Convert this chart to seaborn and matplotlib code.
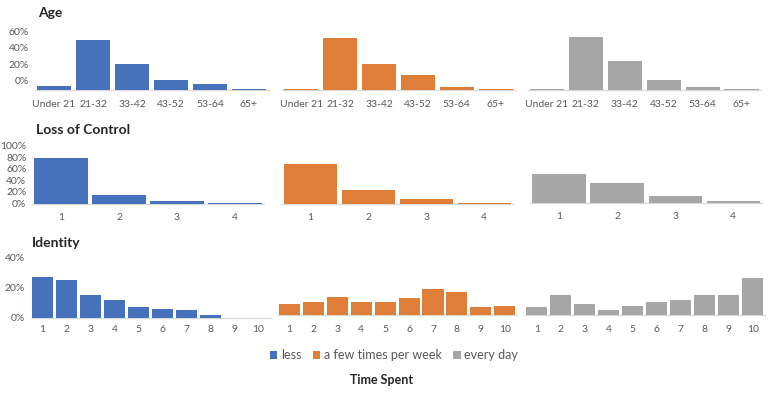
import matplotlib
matplotlib.use("Agg")
import matplotlib.pyplot as plt
from matplotlib.patches import Patch
import seaborn as sns
import pandas as pd

# ---- data (percent) ----
series_names = ["less", "a few times per week", "every day"]
series_colors = ["#4672BC", "#DE7E38", "#A6A6A6"]

age_cats = ["Under 21", "21-32", "33-42", "43-52", "53-64", "65+"]
age_less = [4, 51, 27, 10, 6.5, 1.5]
age_few = [1, 53, 27, 15, 3, 1]
age_daily = [1.5, 54, 30, 10.5, 3.5, 1.3]

loc_cats = ["1", "2", "3", "4"]
loc_less = [79, 14.5, 4, 0.5]
loc_few = [68, 24, 7, 1.5]
loc_daily = [49, 34, 11, 2.5]

id_cats = ["1", "2", "3", "4", "5", "6", "7", "8", "9", "10"]
id_less = [27, 25, 15, 12, 6.7, 5.8, 4.9, 2, 0, 0]
id_few = [7, 8.5, 11.6, 8.5, 8.5, 10.7, 17, 15.3, 4.7, 6]
id_daily = [4.7, 12.9, 6.9, 3.1, 6, 8.4, 10, 12.9, 12.9, 24.4]

age_tick_labels = ["0%", "20%", "40%", "60%"]
loc_tick_labels = ["0%", "20%", "40%", "60%", "80%", "100%"]
id_tick_labels = ["0%", "20%", "40%"]

# ---- style ----
sns.set_theme(style="white")
plt.rcParams["font.family"] = ["Lato", "DejaVu Sans"]

W, H = 768, 403
fig = plt.figure(figsize=(W / 100, H / 100), dpi=100)
fig.patch.set_facecolor("white")

TICK_COL = "#595959"
AXIS_COL = "#D9D9D9"


def add_ax(left, right, top, bottom):
    return fig.add_axes([left / W, 1 - bottom / H, (right - left) / W, (bottom - top) / H])


def panel(ax, cats, vals, color, ymax, xpad, first, yticks=None, ylabels=None, width=0.9):
    df = pd.DataFrame({"cat": cats, "val": vals})
    sns.barplot(data=df, x="cat", y="val", color=color, ax=ax, width=width,
                linewidth=0, saturation=1)
    ax.set_ylim(0, ymax)
    ax.set_xlim(-0.5, len(cats) - 0.5)
    ax.set_xlabel("")
    ax.set_ylabel("")
    for s in ["top", "right", "left"]:
        ax.spines[s].set_visible(False)
    ax.spines["bottom"].set_color(AXIS_COL)
    ax.spines["bottom"].set_linewidth(0.9)
    ax.spines["bottom"].set_zorder(0.5)
    ax.tick_params(axis="x", length=0, pad=xpad, labelsize=7.5, labelcolor=TICK_COL)
    if first:
        ax.set_yticks(yticks)
        ax.set_yticklabels(ylabels)
        ax.tick_params(axis="y", length=0, pad=4, labelsize=7.5, labelcolor=TICK_COL)
    else:
        ax.set_yticks([])
    ax.set_facecolor("none")


# ---- Age row ----
age_px = 0.98  # px per percent
age_pos = [(34.5, 268.5, 90), (281.9, 515.1, 90), (527.5, 761, 90.3)]
age_vals = [age_less, age_few, age_daily]
age_ymax = 62
age_tick_pos = [10.2, 26.5, 42.9, 59.2]
for i, ((l, r, b), vals) in enumerate(zip(age_pos, age_vals)):
    ax = add_ax(l, r, b - age_ymax * age_px, b)
    panel(ax, age_cats, vals, series_colors[i], age_ymax, 7, i == 0,
          age_tick_pos, age_tick_labels, width=0.88)

# ---- Loss of Control row ----
loc_pos = [(32, 264, 203.5), (281.2, 513.2, 203.5), (530, 762.4, 202.5)]
loc_vals = [loc_less, loc_few, loc_daily]
for i, ((l, r, b), vals) in enumerate(zip(loc_pos, loc_vals)):
    ax = add_ax(l, r, b - 57.6, b)
    panel(ax, loc_cats, vals, series_colors[i], 100, 6.5, i == 0,
          [0, 20, 40, 60, 80, 100], loc_tick_labels, width=0.92)

# ---- Identity row ----
id_pos = [(30.5, 270.5, 317.5), (277.5, 516.7, 314.5), (524.7, 764.8, 314.5)]
id_vals = [id_less, id_few, id_daily]
id_pads = [5.5, 7.5, 7.5]
for i, ((l, r, b), vals) in enumerate(zip(id_pos, id_vals)):
    ax = add_ax(l, r, b - 60, b)
    panel(ax, id_cats, vals, series_colors[i], 40, id_pads[i], i == 0,
          [0, 20, 40], id_tick_labels, width=0.88)

# ---- titles ----
fig.text(38 / W, 1 - 13 / H, "Age", fontsize=10, fontweight="bold", va="center", ha="left")
fig.text(36 / W, 1 - 130 / H, "Loss of Control", fontsize=10, fontweight="bold", va="center", ha="left")
fig.text(32 / W, 1 - 243 / H, "Identity", fontsize=10, fontweight="bold", va="center", ha="left")

# ---- legend ----
handles = [Patch(facecolor=c, edgecolor="none") for c in series_colors]
leg = fig.legend(handles, series_names, loc="center", bbox_to_anchor=(394 / W, 1 - 355 / H),
                 ncol=3, frameon=False, fontsize=9, handlelength=0.6, handleheight=0.6,
                 handletextpad=0.3, columnspacing=0.9, labelcolor=TICK_COL)
fig.text(382 / W, 1 - 380 / H, "Time Spent", fontsize=9, fontweight="bold", ha="center", va="center")

fig.savefig("out.png", dpi=100, facecolor="white")
